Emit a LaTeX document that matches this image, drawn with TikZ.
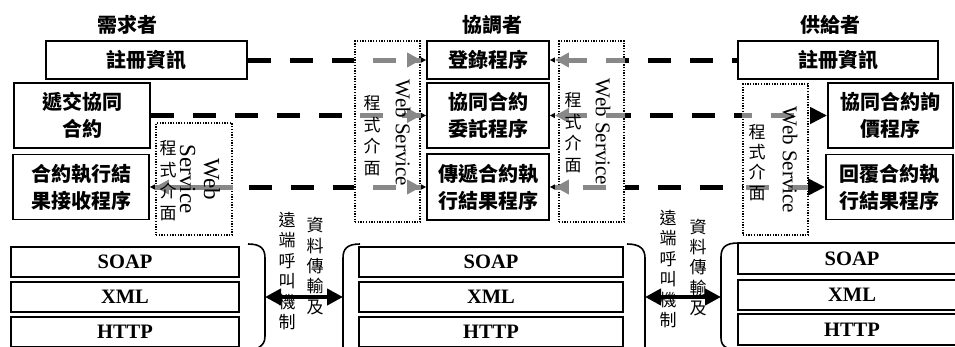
\documentclass[tikz,border=0pt]{standalone}
\usepackage{fontspec}
\setmainfont{Liberation Serif}
\newfontfamily\cjk{Noto Sans CJK TC}
\usetikzlibrary{arrows.meta}
\definecolor{dg}{HTML}{888888}
\tikzset{
  box/.style={draw,line width=1.8pt,inner sep=0pt,align=center,
    font=\cjk\bfseries\fontsize{20}{27}\selectfont},
  head/.style={inner sep=0pt,font=\cjk\bfseries\fontsize{20}{24}\selectfont},
  proto/.style={draw,line width=1.8pt,inner sep=0pt,
    font=\bfseries\fontsize{20.5}{24}\selectfont},
  wsbox/.style={draw,line width=1.3pt,dash pattern=on 1.3pt off 1.4pt,inner sep=0pt},
  wstext/.style={inner sep=0pt,rotate=-90,align=center,font=\fontsize{21}{24}\selectfont},
  vtext/.style={inner sep=0pt,align=center,font=\cjk\fontsize{17}{21.5}\selectfont},
  btext/.style={inner sep=0pt,align=center,font=\cjk\fontsize{17}{20.4}\selectfont},
  blk/.style={line width=5pt,black,dash pattern=on 23pt off 19pt},
  gry/.style={line width=5pt,dg,dash pattern=on 23pt off 19pt},
  gtip/.style={-{Triangle[dg,length=14pt,width=14pt,sep=0pt]Triangle[black,length=5pt,width=5pt]}},
  btip/.style={-{Triangle[black,length=17pt,width=16pt]}},
  dbl/.style={line width=4pt,{Triangle[length=16pt,width=16pt]}-{Triangle[length=16pt,width=16pt]}},
  brk/.style={line width=1.6pt}
}
\begin{document}
\begin{tikzpicture}[x=1pt,y=-1pt]
\clip (0,0) rectangle (955,346);
\fill[white] (0,0) rectangle (955,346);

% headers
\node[head] (h1) at (127,25) {需求者};
\node[head] (h2) at (492,25) {協調者};
\node[head] (h3) at (830,25) {供給者};

% web service boxes
\node[wsbox,minimum width=76pt,minimum height=112pt] (wsL) at (194,179) {};
\node[wsbox,minimum width=65pt,minimum height=181pt] (wsML) at (387.5,131.5) {};
\node[wsbox,minimum width=65pt,minimum height=181pt] (wsMR) at (591.5,131.5) {};
\node[wsbox,minimum width=65pt,minimum height=151pt] (wsR) at (775.5,159.5) {};

% process boxes
\node[box,minimum width=201pt,minimum height=38pt] (regL) at (146.5,60) {註冊資訊};
\node[box,minimum width=136pt,minimum height=65pt] (subL) at (82,115.5) {遞交協同\\合約};
\node[box,minimum width=136pt,minimum height=65pt] (recL) at (81,187) {合約執行結\\果接收程序};
\node[box,minimum width=122pt,minimum height=38pt] (regM) at (488,60) {登錄程序};
\node[box,minimum width=122pt,minimum height=65pt] (entM) at (488,115.5) {協同合約\\委託程序};
\node[box,minimum width=122pt,minimum height=66pt] (pasM) at (488,187) {傳遞合約執\\行結果程序};
\node[box,minimum width=200pt,minimum height=38pt] (regR) at (838,60) {註冊資訊};
\node[box,minimum width=125pt,minimum height=65pt] (inqR) at (890.5,115.5) {協同合約詢\\價程序};
\node[box,minimum width=127pt,minimum height=65pt] (repR) at (889.5,187) {回覆合約執\\行結果程序};

% connectors left side
\draw[blk] (regL.east) -- (regL.east -| wsML.west);
\draw[gry,dash phase=23pt,gtip] (regL.east -| wsML.west) -- (regM.west);
\draw[blk] (subL.east) -- (subL.east -| wsML.west);
\draw[gry,dash phase=36pt,gtip] (subL.east -| wsML.west) -- (entM.west);
\draw[gry,solid,gtip] (recL.east -| wsL.east) -- (recL.east);
\draw[blk,dash phase=26pt] (recL.east -| wsL.east) -- (recL.east -| wsML.west);
\draw[gry,dash phase=23pt,gtip] (recL.east -| wsML.west) -- (pasM.west);

% connectors right side
\draw[blk,dash phase=18pt] (regR.west) -- (regR.west -| wsMR.east);
\draw[gry,dash phase=4pt,gtip] (regR.west -| wsMR.east) -- (regM.east);
\draw[gry,dash phase=4pt,gtip] (entM.east -| wsMR.east) -- (entM.east);
\draw[blk,dash phase=17pt] (entM.east -| wsMR.east) -- (entM.east -| wsR.west);
\draw[gry,dash phase=13pt,btip] (entM.east -| wsR.west) -- (inqR.west);
\draw[gry,dash phase=23pt,gtip] (pasM.east -| wsMR.east) -- (pasM.east);
\draw[blk,dash phase=9pt] (pasM.east -| wsMR.east) -- (pasM.east -| wsR.west);
\draw[gry,dash phase=38pt,btip] (pasM.east -| wsR.west) -- (repR.west);

% web service texts
\node[wstext,font=\fontsize{23}{24}\selectfont] (wstL) at (200,179) {Web\\Service};
\node[vtext] (pgL) at (168,180.5) {程\\式\\介\\面};
\node[wstext] (wstML) at (403,133) {Web Service};
\node[vtext] (pgML) at (372,135.5) {程\\式\\介\\面};
\node[wstext] (wstMR) at (603,132) {Web Service};
\node[vtext] (pgMR) at (573,132.5) {程\\式\\介\\面};
\node[wstext] (wstR) at (790,160) {Web Service};
\node[vtext,font=\cjk\fontsize{17}{20.3}\selectfont] (pgR) at (757,162.5) {程\\式\\介\\面};

% protocol stacks
\node[proto,minimum width=228pt,minimum height=30pt] (soapL) at (125,262) {SOAP};
\node[proto,minimum width=228pt,minimum height=30pt] (xmlL) at (125,297) {XML};
\node[proto,minimum width=228pt,minimum height=30pt] (httpL) at (125,332) {HTTP};
\node[proto,minimum width=264pt,minimum height=30pt] (soapM) at (491,262) {SOAP};
\node[proto,minimum width=264pt,minimum height=30pt] (xmlM) at (491,297) {XML};
\node[proto,minimum width=264pt,minimum height=30pt] (httpM) at (491,332) {HTTP};
\node[proto,minimum width=228pt,minimum height=31pt] (soapR) at (852,258.5) {SOAP};
\node[proto,minimum width=228pt,minimum height=30pt] (xmlR) at (852,295) {XML};
\node[proto,minimum width=228pt,minimum height=31pt] (httpR) at (852,329.5) {HTTP};

% brackets
\draw[brk] (248,244) .. controls (261,244) and (265,249) .. (265,258) -- (265,336) .. controls (265,342) and (263,345) .. (258,348);
\draw[brk] (360,244) .. controls (347,244) and (343,249) .. (343,258) -- (343,350);
\draw[brk] (627,244) .. controls (640,244) and (645,249) .. (645,258) -- (645,350);
\draw[brk] (738,243) .. controls (725,243) and (721,248) .. (721,257) -- (721,338) .. controls (721,343) and (723,346) .. (727,348);

% bottom double arrows
\coordinate (aL1) at (265,297);
\coordinate (aL2) at (343,297);
\coordinate (aR1) at (645,297);
\coordinate (aR2) at (721,297);
\draw[dbl] (aL1) -- (aL2);
\draw[dbl] (aR1) -- (aR2);

% bottom vertical texts
\node[btext] (rpcL) at (287,271) {遠\\端\\呼\\叫\\機\\制};
\node[btext] (datL) at (315,266) {資\\料\\傳\\輸\\及};
\node[btext] (rpcR) at (668,269) {遠\\端\\呼\\叫\\機\\制};
\node[btext] (datR) at (698,267.5) {資\\料\\傳\\輸\\及};
\end{tikzpicture}
\end{document}
